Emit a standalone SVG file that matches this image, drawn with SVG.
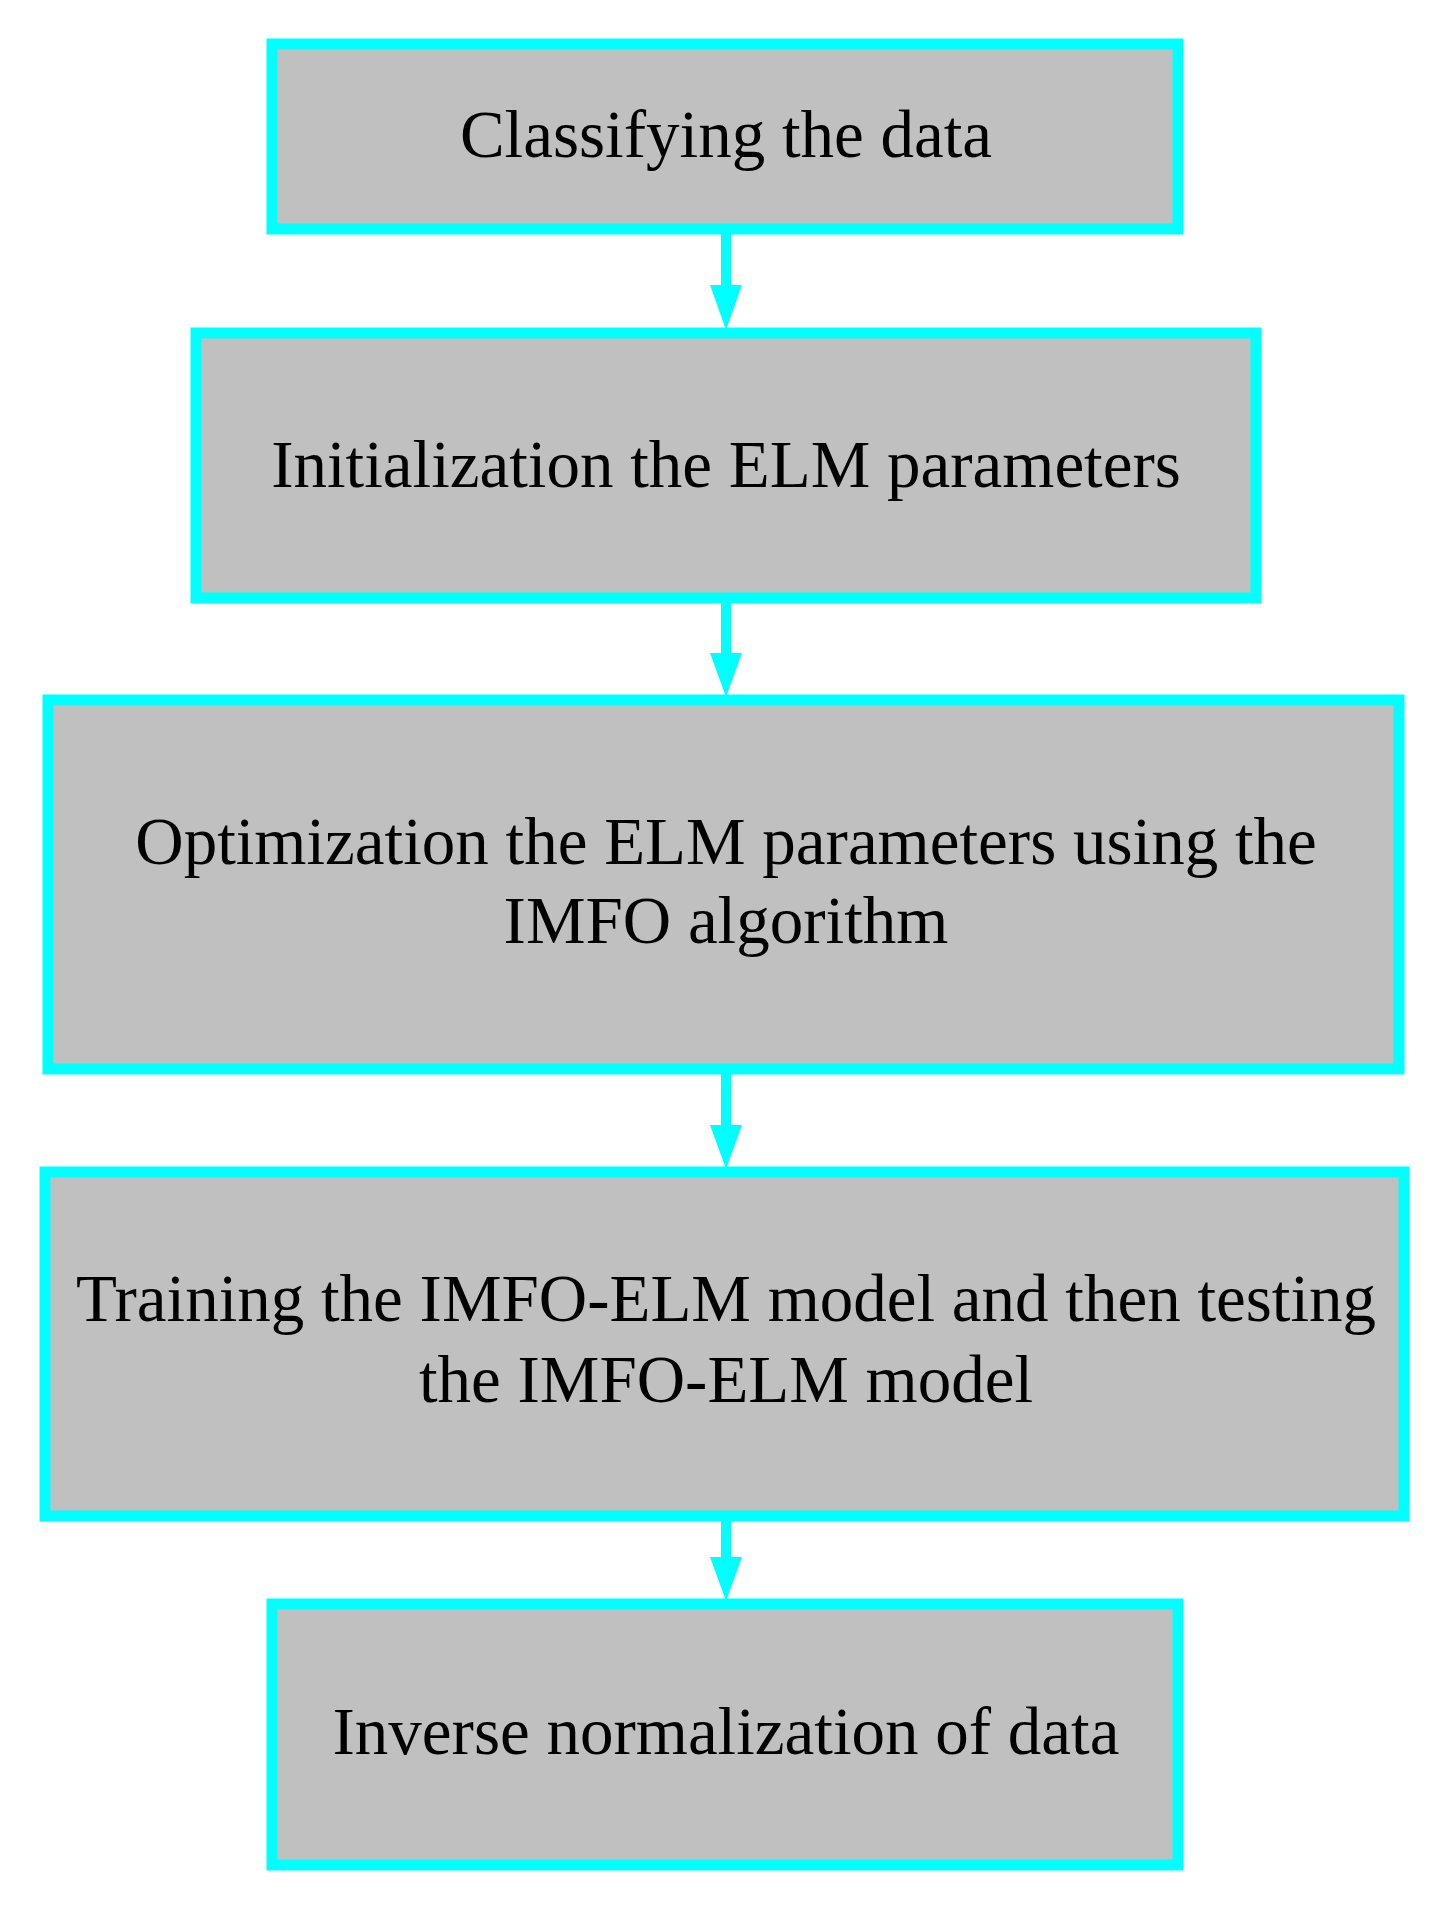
<svg xmlns="http://www.w3.org/2000/svg" width="1452" height="1907" viewBox="0 0 1452 1907">
<style>
.b{fill:#c0c0c0;stroke:#00ffff;stroke-width:11}
.t{font-family:"Liberation Serif",serif;font-size:67px;fill:#000;text-anchor:middle}
.c{stroke:#00ffff;stroke-width:10;fill:none}
.h{fill:#00ffff}
</style>
<rect width="1452" height="1907" fill="#fff"/>
<g id="n1"><rect class="b" x="272" y="44" width="906" height="185"/><text class="t" x="726" y="157">Classifying the data</text></g>
<g id="n2"><rect class="b" x="196" y="333" width="1060" height="265"/><text class="t" x="726" y="487">Initialization the ELM parameters</text></g>
<g id="n3"><rect class="b" x="48" y="700" width="1351" height="369"/><text class="t" x="726" y="864">Optimization the ELM parameters using the</text><text class="t" x="726" y="943">IMFO algorithm</text></g>
<g id="n4"><rect class="b" x="45" y="1172" width="1359" height="344"/><text class="t" x="726" y="1321">Training the IMFO-ELM model and then testing</text><text class="t" x="726" y="1402">the IMFO-ELM model</text></g>
<g id="n5"><rect class="b" x="272" y="1604" width="906" height="261"/><text class="t" x="726" y="1754">Inverse normalization of data</text></g>
<g id="connectors">
<line class="c" x1="726" y1="234" x2="726" y2="300"/><polygon class="h" points="710,285 742,285 726,330"/>
<line class="c" x1="726" y1="603" x2="726" y2="668"/><polygon class="h" points="710,653 742,653 726,697"/>
<line class="c" x1="726" y1="1074" x2="726" y2="1140"/><polygon class="h" points="710,1125 742,1125 726,1169"/>
<line class="c" x1="726" y1="1521" x2="726" y2="1572"/><polygon class="h" points="710,1557 742,1557 726,1601"/>
</g>
</svg>
